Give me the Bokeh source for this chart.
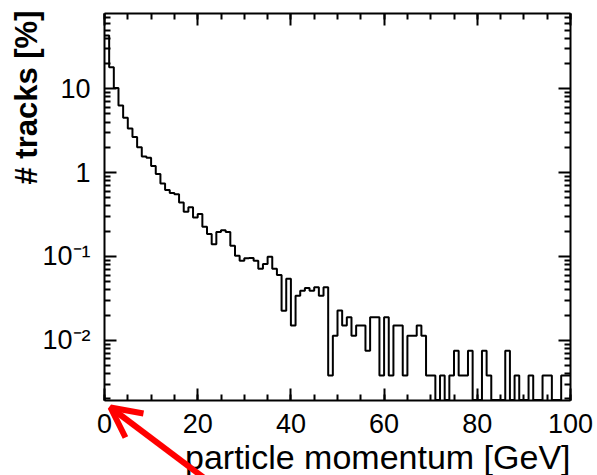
import math
from bokeh.plotting import figure
from bokeh.models import (Range1d, FixedTicker, LinearAxis, LogAxis,
                          CustomJSTickFormatter, Label, Arrow, OpenHead)
from bokeh.embed import file_html
from bokeh.resources import INLINE

# ---- data: 1 GeV bins from 0 to 100 GeV, fraction of tracks in % ----
bin_edges = list(range(0, 101))
tracks_pct = [
    43.0, 18.0, 10.2, 6.3, 4.5, 3.35, 2.65, 2.0, 1.55, 1.5,
    1.2, 0.96, 0.74, 0.62, 0.57, 0.55, 0.44, 0.34, 0.385, 0.29,
    0.32, 0.225, 0.185, 0.14, 0.195, 0.205, 0.195, 0.134, 0.102, 0.089,
    0.095, 0.096, 0.089, 0.071, 0.081, 0.099, 0.071, 0.06, 0.0225, 0.054,
    0.015, 0.034, 0.039, 0.042, 0.039, 0.043, 0.034, 0.043, 0.0038, 0.0113,
    0.0226, 0.015, 0.0188, 0.0113, 0.015, 0.015, 0.0075, 0.0188, 0.0188, 0.0038,
    0.0188, 0.0038, 0.015, 0.015, 0.0038, 0.0113, 0.0113, 0.015, 0.0113, 0.0038,
    0.0038, 0.0, 0.0038, 0.0, 0.0038, 0.0075, 0.0038, 0.0038, 0.0075, 0.0,
    0.0, 0.0075, 0.0038, 0.0, 0.0, 0.0, 0.0075, 0.0, 0.0038, 0.0,
    0.0, 0.0038, 0.0, 0.0, 0.0038, 0.0038, 0.0, 0.0, 0.0038, 0.0038,
]
x_major_ticks = [0, 20, 40, 60, 80, 100]
x_minor_step = 5
y_major_ticks = [0.01, 0.1, 1, 10]
x_title = "particle momentum [GeV]"
y_title = "# tracks [%]"

FONT = "Liberation Sans"
W, H = 597, 475
X_MIN, X_MAX = 0, 100
Y_MIN, Y_MAX = 0.00194, 78.7
# plot box inside the canvas (pixels)
BOX_L, BOX_R, BOX_T, BOX_B = 104, 570, 13, 399.5

# ranges that put the plot box at the right place when the frame fills the canvas
gev_per_px = (X_MAX - X_MIN) / (BOX_R - BOX_L)
x_lo = X_MIN - BOX_L * gev_per_px
x_hi = X_MAX + (W - BOX_R) * gev_per_px
dec_per_px = math.log10(Y_MAX / Y_MIN) / (BOX_B - BOX_T)
y_lo = Y_MIN / 10 ** ((H - BOX_B) * dec_per_px)
y_hi = Y_MAX * 10 ** (BOX_T * dec_per_px)

p = figure(width=W, height=H, x_range=Range1d(x_lo, x_hi),
           y_range=Range1d(y_lo, y_hi), y_axis_type="log",
           output_backend="svg", toolbar_location=None, min_border=0)
p.background_fill_color = "white"
p.border_fill_color = "white"
p.outline_line_color = None
p.xgrid.visible = False
p.ygrid.visible = False

# step outline of the histogram; empty bins go down to the box floor
ys = [v if v > 0 else Y_MIN for v in tracks_pct]
ys = ys + [ys[-1]]
p.step(bin_edges, ys, mode="after", line_color="black", line_width=2)

xt = FixedTicker(ticks=x_major_ticks,
                 minor_ticks=list(range(X_MIN, X_MAX + 1, x_minor_step)))
decades = [0.001, 0.01, 0.1, 1, 10]
yt = FixedTicker(ticks=y_major_ticks,
                 minor_ticks=[m * d for d in decades for m in range(2, 10)
                              if Y_MIN <= m * d <= Y_MAX])

yfmt = CustomJSTickFormatter(code="""
const e = Math.round(Math.log10(tick));
if (e >= 0) { return String(Math.round(tick)); }
const sup = {"-": "\u207b", "0": "\u2070", "1": "\u00b9", "2": "\u00b2", "3": "\u00b3"};
return "10" + String(e).split("").map(c => sup[c]).join("");
""")
empty = CustomJSTickFormatter(code="return '';")


def style(ax, size="27px"):
    ax.axis_line_width = 2
    ax.axis_line_color = "black"
    ax.major_tick_in = 12
    ax.major_tick_out = 0
    ax.minor_tick_in = 6
    ax.minor_tick_out = 0
    ax.major_tick_line_width = 2
    ax.minor_tick_line_width = 2
    ax.major_tick_line_color = "black"
    ax.minor_tick_line_color = "black"
    ax.major_label_text_font = FONT
    ax.major_label_text_font_size = size
    ax.major_label_text_color = "black"


xa = p.below[0]
xa.ticker = xt
xa.fixed_location = Y_MIN
xa.bounds = (X_MIN, X_MAX)
style(xa)
xa.major_label_standoff = 14

ya = p.left[0]
ya.ticker = yt
ya.formatter = yfmt
ya.fixed_location = X_MIN
ya.bounds = (Y_MIN, Y_MAX)
style(ya)
ya.major_label_standoff = 14

top = LinearAxis(ticker=xt, formatter=empty, fixed_location=Y_MAX,
                 bounds=(X_MIN, X_MAX))
style(top, "0px")
top.major_label_standoff = 0
p.add_layout(top, "above")

right = LogAxis(ticker=yt, formatter=empty, fixed_location=X_MAX,
                bounds=(Y_MIN, Y_MAX))
style(right, "0px")
right.major_label_standoff = 0
p.add_layout(right, "right")

# titles (screen units: pixels from the bottom-left of the frame = canvas)
p.add_layout(Label(x=BOX_R, y=H - 456, x_units="screen", y_units="screen",
                   text=x_title, text_align="right", text_baseline="alphabetic",
                   text_font=FONT, text_font_size="34px", text_color="black"))
p.add_layout(Label(x=26, y=H - 10, x_units="screen", y_units="screen",
                   angle=math.pi / 2, text=y_title, text_align="right",
                   text_baseline="alphabetic", text_font=FONT,
                   text_font_size="31px", text_font_style="bold",
                   text_color="black"))

# red arrow pointing at the origin of the plot
p.add_layout(Arrow(x_start=211, y_start=-8, x_end=110, y_end=H - 407,
                   start_units="screen", end_units="screen",
                   line_color="#ff0000", line_width=6,
                   end=OpenHead(size=30, line_color="#ff0000", line_width=6)))

open("out.html", "w").write(file_html(p, INLINE))
